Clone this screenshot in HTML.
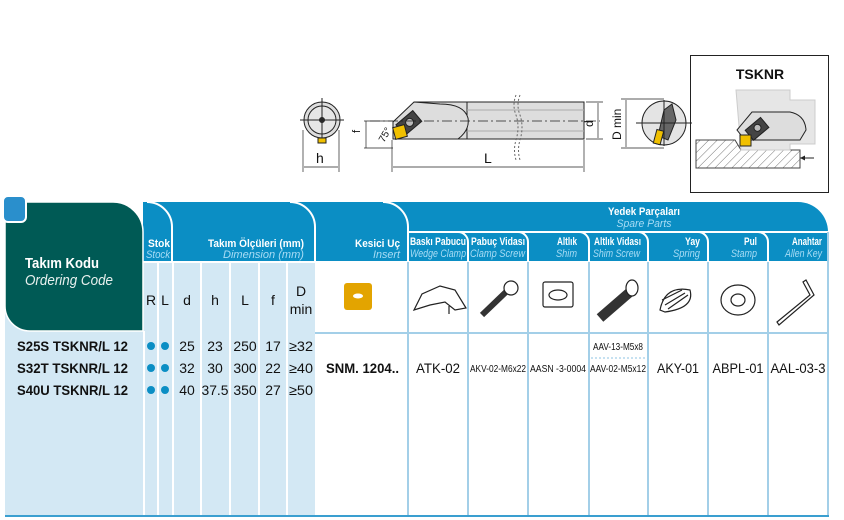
<!DOCTYPE html>
<html><head><meta charset="utf-8"><style>
body{margin:0;background:#fff;}
svg{display:block;font-family:"Liberation Sans",sans-serif;}
</style></head><body>
<svg width="844" height="520" viewBox="0 0 844 520" xmlns="http://www.w3.org/2000/svg">
<defs>
<pattern id="hatch" width="6" height="6" patternUnits="userSpaceOnUse" patternTransform="rotate(45)">
<line x1="0" y1="0" x2="0" y2="6" stroke="#777" stroke-width="1"/></pattern>
</defs>

<!-- ===== top drawings ===== -->
<g stroke="#222" stroke-width="1" fill="none">
 <!-- front view -->
 <circle cx="322" cy="120" r="18" fill="#ddd"/>
 <circle cx="322" cy="120" r="14" fill="#e6e6e6"/>
 <circle cx="322" cy="120" r="2.5" fill="#333"/>
 <line x1="300" y1="120" x2="344" y2="120"/><line x1="322" y1="98" x2="322" y2="142"/>
 <rect x="318" y="138" width="8" height="5" fill="#f0c000"/>
 <line x1="303" y1="130" x2="303" y2="172" stroke-width=".7"/><line x1="339" y1="130" x2="339" y2="172" stroke-width=".7"/>
 <line x1="304" y1="167" x2="338" y2="167" stroke-width=".7"/>
 <!-- bar -->
 <rect x="467" y="102" width="117" height="37" fill="#ddd"/>
 <path d="M414,102 H467 V139 H458 Q455,122 452,120 Q452,108 440,106 Z" fill="#ddd"/>
 <path d="M414,102 L393,122 L393,139 H458 Q470,130 468,118 Q464,104 440,104 Z" fill="#ddd"/>
 <line x1="467" y1="110" x2="584" y2="110" stroke="#aaa"/><line x1="467" y1="131" x2="584" y2="131" stroke="#aaa"/>
 <path d="M516,95 q-4,10 0,20 q4,12 0,25 q-3,10 0,20" stroke="#666" stroke-dasharray="2,2"/>
 <path d="M520,95 q-4,10 0,20 q4,12 0,25 q-3,10 0,20" stroke="#666" stroke-dasharray="2,2"/>
 <g transform="rotate(-40 410 126)"><rect x="400" y="116" width="22" height="14" fill="#444"/><circle cx="412" cy="123" r="4" fill="#bbb"/></g>
 <rect x="394" y="126" width="12" height="12" fill="#f0c000" stroke="#222" transform="rotate(-15 400 132)"/>
 <line x1="370" y1="121" x2="600" y2="121" stroke-dasharray="10,3,2,3" stroke-width=".7"/>
 <line x1="392" y1="140" x2="392" y2="172" stroke-width=".7"/><line x1="584" y1="140" x2="584" y2="172" stroke-width=".7"/>
 <line x1="393" y1="167" x2="583" y2="167" stroke-width=".7"/>
 <line x1="586" y1="102" x2="603" y2="102" stroke-width=".7"/><line x1="586" y1="139" x2="603" y2="139" stroke-width=".7"/>
 <line x1="598" y1="103" x2="598" y2="138" stroke-width=".7"/>
 <line x1="364" y1="121" x2="393" y2="121" stroke-width=".7"/><line x1="364" y1="148" x2="393" y2="148" stroke-width=".7"/>
 <line x1="366" y1="121" x2="366" y2="148" stroke-width=".7"/>
 <!-- Dmin view -->
 <circle cx="664" cy="123" r="22" fill="#e4e4e4"/>
 <path d="M664,110 L672,104 L676,120 L668,140 L658,136 Z" fill="#666"/>
 <rect x="655" y="130" width="7" height="14" fill="#f0c000" transform="rotate(15 658 137)"/>
 <line x1="636" y1="123" x2="692" y2="123"/><line x1="664" y1="100" x2="664" y2="146"/>
 <line x1="621" y1="99" x2="664" y2="99" stroke-width=".7"/><line x1="621" y1="148" x2="664" y2="148" stroke-width=".7"/>
 <line x1="626" y1="100" x2="626" y2="147" stroke-width=".7"/>
 <!-- TSKNR box -->
 <rect x="690.5" y="55.5" width="138" height="137" stroke="#222"/>
 <path d="M696,140 H735 L741,150 H800 V168 H696 Z" fill="url(#hatch)" stroke="#444"/>
 <path d="M736,90 H790 V100 H815 V144 H790 V150 H741 Z" fill="#e6e6e6" stroke="#ccc"/>
 <path d="M737,130 L752,112 H790 Q805,115 806,130 L800,140 H745 Z" fill="#ddd"/>
 <g transform="rotate(-40 758 130)"><rect x="748" y="122" width="20" height="13" fill="#444"/><circle cx="759" cy="128" r="3.5" fill="#bbb"/></g>
 <rect x="740" y="135" width="11" height="11" fill="#f0c000" stroke="#222"/>
 <line x1="800" y1="158" x2="814" y2="158"/>
</g>
<path d="M800,158 l5,-2.5 v5 z" fill="#222"/>
<g font-size="14" fill="#111">
 <text x="316" y="163">h</text><text x="484" y="163">L</text>
 <text transform="translate(593,127) rotate(-90)" font-size="12">d</text>
 <text transform="translate(360,133) rotate(-90)" font-size="11">f</text>
 <text transform="translate(384,143) rotate(-60)" font-size="10">75°</text>
 <text transform="translate(621,140) rotate(-90)" font-size="12">D min</text>
 <text x="760" y="79" font-weight="bold" text-anchor="middle" font-size="14">TSKNR</text>
</g>

<!-- ===== table ===== -->
<rect x="5" y="262" width="310" height="254" fill="#d3e8f4"/>
<path d="M143,202 H798 A30,30 0 0 1 828,232 V262 H143 Z" fill="#0b8ec4"/>
<path d="M5,202 H113 A30,30 0 0 1 143,232 V331 H30 A25,25 0 0 1 5,306 Z" fill="#005a55" stroke="#fff" stroke-width="1.5"/>
<rect x="3" y="196" width="23" height="26" rx="5" fill="#2a8fcc" stroke="#fff" stroke-width="2"/>
<g stroke="#fff" stroke-width="2" fill="none">
 <path d="M147,202 A25,25 0 0 1 172,227 V262"/>
 <path d="M290,202 A25,25 0 0 1 315,227 V262"/>
 <path d="M383,202 A25,25 0 0 1 408,227 V262"/>
 <line x1="409" y1="232" x2="828" y2="232"/>
 <path d="M458,232 A10,10 0 0 1 468,242 V262"/>
 <path d="M518,232 A10,10 0 0 1 528,242 V262"/>
 <path d="M579,232 A10,10 0 0 1 589,242 V262"/>
 <path d="M638,232 A10,10 0 0 1 648,242 V262"/>
 <path d="M698,232 A10,10 0 0 1 708,242 V262"/>
 <path d="M758,232 A10,10 0 0 1 768,242 V262"/>
 <line x1="143" y1="262" x2="828" y2="262"/>
 <line x1="144" y1="331" x2="144" y2="516"/>
 <line x1="158" y1="262" x2="158" y2="516"/>
 <line x1="173" y1="262" x2="173" y2="516"/>
 <line x1="201" y1="262" x2="201" y2="516"/>
 <line x1="230" y1="262" x2="230" y2="516"/>
 <line x1="259" y1="262" x2="259" y2="516"/>
 <line x1="287" y1="262" x2="287" y2="516"/>
</g>
<g stroke="#a3cfe8" stroke-width="2">
 <line x1="408" y1="262" x2="408" y2="516"/><line x1="468" y1="262" x2="468" y2="516"/>
 <line x1="528" y1="262" x2="528" y2="516"/><line x1="589" y1="262" x2="589" y2="516"/>
 <line x1="648" y1="262" x2="648" y2="516"/><line x1="708" y1="262" x2="708" y2="516"/>
 <line x1="768" y1="262" x2="768" y2="516"/><line x1="828" y1="232" x2="828" y2="516"/>
 <line x1="315" y1="333" x2="828" y2="333"/>
</g>
<line x1="5" y1="516" x2="829" y2="516" stroke="#3a9fd0" stroke-width="2"/>

<!-- header texts -->
<g fill="#fff" font-weight="bold" font-size="11" text-anchor="end">
 <text x="170" y="247" textLength="22" lengthAdjust="spacingAndGlyphs">Stok</text>
 <text x="304" y="247" textLength="96" lengthAdjust="spacingAndGlyphs">Takım Ölçüleri (mm)</text>
 <text x="400" y="247" textLength="45" lengthAdjust="spacingAndGlyphs">Kesici Uç</text>
 <text x="644" y="215" text-anchor="middle" textLength="72" lengthAdjust="spacingAndGlyphs">Yedek Parçaları</text>
 <text x="466" y="245" textLength="56" lengthAdjust="spacingAndGlyphs">Baskı Pabucu</text>
 <text x="525" y="245" textLength="54" lengthAdjust="spacingAndGlyphs">Pabuç Vidası</text>
 <text x="577" y="245" textLength="20" lengthAdjust="spacingAndGlyphs">Altlık</text>
 <text x="641" y="245" textLength="47" lengthAdjust="spacingAndGlyphs">Altlık Vidası</text>
 <text x="700" y="245" textLength="15" lengthAdjust="spacingAndGlyphs">Yay</text>
 <text x="757" y="245" textLength="13" lengthAdjust="spacingAndGlyphs">Pul</text>
 <text x="822" y="245" textLength="30" lengthAdjust="spacingAndGlyphs">Anahtar</text>
</g>
<g fill="#a8dcf5" font-style="italic" font-size="11" text-anchor="end">
 <text x="170" y="258" textLength="24" lengthAdjust="spacingAndGlyphs">Stock</text>
 <text x="304" y="258" textLength="81" lengthAdjust="spacingAndGlyphs">Dimension (mm)</text>
 <text x="400" y="258" textLength="27" lengthAdjust="spacingAndGlyphs">Insert</text>
 <text x="644" y="227" text-anchor="middle" textLength="55" lengthAdjust="spacingAndGlyphs">Spare Parts</text>
 <text x="466" y="257" textLength="56" lengthAdjust="spacingAndGlyphs">Wedge Clamp</text>
 <text x="525" y="257" textLength="55" lengthAdjust="spacingAndGlyphs">Clamp Screw</text>
 <text x="577" y="257" textLength="21" lengthAdjust="spacingAndGlyphs">Shim</text>
 <text x="640" y="257" textLength="47" lengthAdjust="spacingAndGlyphs">Shim Screw</text>
 <text x="700" y="257" textLength="27" lengthAdjust="spacingAndGlyphs">Spring</text>
 <text x="757" y="257" textLength="26" lengthAdjust="spacingAndGlyphs">Stamp</text>
 <text x="822" y="257" textLength="37" lengthAdjust="spacingAndGlyphs">Allen Key</text>
</g>
<text x="25" y="268" fill="#fff" font-weight="bold" font-size="15" textLength="74" lengthAdjust="spacingAndGlyphs">Takım Kodu</text>
<text x="25" y="285" fill="#e8f0ee" font-style="italic" font-size="15" textLength="88" lengthAdjust="spacingAndGlyphs">Ordering Code</text>

<g font-size="14" fill="#111" text-anchor="middle">
 <text x="151" y="305">R</text><text x="165" y="305">L</text><text x="187" y="305">d</text>
 <text x="215" y="305">h</text><text x="245" y="305">L</text><text x="273" y="305">f</text>
 <text x="301" y="296">D</text><text x="301" y="314">min</text>
</g>

<!-- icons -->
<rect x="344" y="283" width="28" height="27" rx="3" fill="#e3a400"/>
<ellipse cx="358" cy="296" rx="5" ry="2.5" fill="#fff"/>
<g stroke="#222" stroke-width="1.2" fill="none">
 <path d="M414,310 L422,294 L440,286 L455,290 L466,308 L455,310 L445,302 L430,305 Z"/>
 <line x1="449" y1="306" x2="449" y2="314"/>
 <path d="M482,315 L508,290" stroke-width="6" stroke="#333"/><circle cx="511" cy="288" r="7" fill="#fff"/>
 <rect x="543" y="282" width="30" height="25" rx="2"/><ellipse cx="558" cy="295" rx="9" ry="5"/>
 <path d="M600,318 L630,292" stroke-width="10" stroke="#333"/><ellipse cx="632" cy="288" rx="6" ry="8" fill="#fff"/>
 <path d="M660,310 q5,-25 30,-20 q5,18 -25,22 z"/><path d="M665,305 l20,-12 M668,309 l20,-14 M662,300 l20,-10"/>
 <ellipse cx="738" cy="300" rx="17" ry="15"/><ellipse cx="738" cy="300" rx="7" ry="6"/>
 <path d="M777,322 L810,295 L803,282 L806,280 L814,295 L779,325 Z"/>
</g>

<!-- data rows -->
<g font-size="14" fill="#111">
 <g font-weight="bold">
  <text x="17" y="351" textLength="111" lengthAdjust="spacingAndGlyphs">S25S TSKNR/L 12</text>
  <text x="17" y="373" textLength="111" lengthAdjust="spacingAndGlyphs">S32T TSKNR/L 12</text>
  <text x="17" y="395" textLength="111" lengthAdjust="spacingAndGlyphs">S40U TSKNR/L 12</text>
  <text x="326" y="373" textLength="73" lengthAdjust="spacingAndGlyphs">SNM. 1204..</text>
 </g>
 <g fill="#0b8ec4">
  <circle cx="151" cy="346" r="4"/><circle cx="165" cy="346" r="4"/>
  <circle cx="151" cy="368" r="4"/><circle cx="165" cy="368" r="4"/>
  <circle cx="151" cy="390" r="4"/><circle cx="165" cy="390" r="4"/>
 </g>
 <g text-anchor="middle">
  <text x="187" y="351">25</text><text x="215" y="351">23</text><text x="245" y="351">250</text><text x="273" y="351">17</text>
  <text x="187" y="373">32</text><text x="215" y="373">30</text><text x="245" y="373">300</text><text x="273" y="373">22</text>
  <text x="187" y="395">40</text><text x="215" y="395" textLength="27" lengthAdjust="spacingAndGlyphs">37.5</text><text x="245" y="395">350</text><text x="273" y="395">27</text>
  <text x="301" y="351" textLength="24" lengthAdjust="spacingAndGlyphs">≥32</text>
  <text x="301" y="373" textLength="24" lengthAdjust="spacingAndGlyphs">≥40</text>
  <text x="301" y="395" textLength="24" lengthAdjust="spacingAndGlyphs">≥50</text>
  <text x="438" y="373" textLength="44" lengthAdjust="spacingAndGlyphs">ATK-02</text>
  <text x="678" y="373" textLength="42" lengthAdjust="spacingAndGlyphs">AKY-01</text>
  <text x="738" y="373" textLength="51" lengthAdjust="spacingAndGlyphs">ABPL-01</text>
  <text x="798" y="373" textLength="55" lengthAdjust="spacingAndGlyphs">AAL-03-3</text>
  <g font-size="10">
   <text x="498" y="372" textLength="56" lengthAdjust="spacingAndGlyphs">AKV-02-M6x22</text>
   <text x="558" y="372" textLength="56" lengthAdjust="spacingAndGlyphs">AASN -3-0004</text>
   <text x="618" y="350" textLength="50" lengthAdjust="spacingAndGlyphs">AAV-13-M5x8</text>
   <text x="618" y="372" textLength="56" lengthAdjust="spacingAndGlyphs">AAV-02-M5x12</text>
  </g>
 </g>
</g>
<line x1="591" y1="358" x2="646" y2="358" stroke="#8cc3e3" stroke-dasharray="2,2"/>
</svg>
</body></html>
